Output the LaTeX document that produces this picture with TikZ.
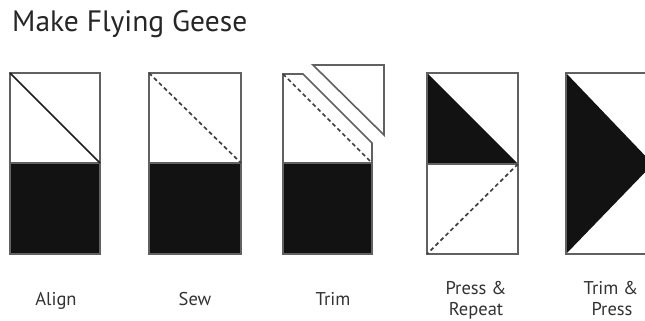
\documentclass[tikz,border=0pt]{standalone}
\usepackage{fontspec}
\setmainfont{PT Sans}
\begin{document}
\begin{tikzpicture}[x=1pt,y=-1pt,
  outline/.style={draw=black!62, line width=1.6pt},
  patch/.style={fill=black!93},
  seam/.style={draw=black!88, line width=1.7pt},
  seamdash/.style={draw=black!75, line width=1.7pt, dash pattern=on 4pt off 3pt},
  lbl/.style={text=black!80, font=\fontsize{18.5}{23}\selectfont, align=center},
  title/.style={text=black!85, font=\fontsize{29.5}{31}\selectfont}]
\useasboundingbox (0,0) rectangle (645,321);
\clip (0,0) rectangle (645,321);
\fill[white] (0,0) rectangle (645,321);

% title
\node[title, anchor=base west, inner sep=0pt] (ttl) at (12,32) {Make Flying Geese};

% Panel 1: Align
\fill[patch] (10,163) rectangle (100,254);
\draw[outline] (10,73) rectangle (100,254);
\draw[outline] (10,163) -- (100,163);
\draw[seam] (10,73) -- (100,163);

% Panel 2: Sew
\fill[patch] (149,163) rectangle (241,254);
\draw[outline] (149,73) rectangle (241,254);
\draw[outline] (149,163) -- (241,163);
\draw[seamdash] (149,73) -- (241,163);

% Panel 3: Trim
\fill[patch] (283,163) rectangle (372,254);
\draw[outline] (283,74) -- (303,74) -- (372,143) -- (372,254) -- (283,254) -- cycle;
\draw[outline] (283,163) -- (372,163);
\draw[seamdash] (283,74) -- (372,163);
\draw[outline] (313,65) -- (384,65) -- (384,135) -- cycle;

% Panel 4: Press & Repeat
\fill[patch] (427,73) -- (518,164) -- (427,164) -- cycle;
\draw[outline] (427,73) rectangle (518,254);
\draw[outline] (427,164) -- (518,164);
\draw[seamdash] (518,164) -- (427,254);

% Panel 5: Trim & Press
\fill[patch] (566,73) -- (653,164) -- (566,254) -- cycle;
\draw[outline] (566,73) rectangle (656,254);

% labels
\node[lbl, anchor=base] (l1) at (56,305) {Align};
\node[lbl, anchor=base] (l2) at (195,305) {Sew};
\node[lbl, anchor=base] (l3) at (333,305) {Trim};
\node[lbl, anchor=base] (l4a) at (476,294) {Press \&};
\node[lbl, anchor=base] (l4b) at (476,315) {Repeat};
\node[lbl, anchor=base] (l5a) at (611,294) {Trim \&};
\node[lbl, anchor=base] (l5b) at (612,315) {Press};
\end{tikzpicture}
\end{document}
